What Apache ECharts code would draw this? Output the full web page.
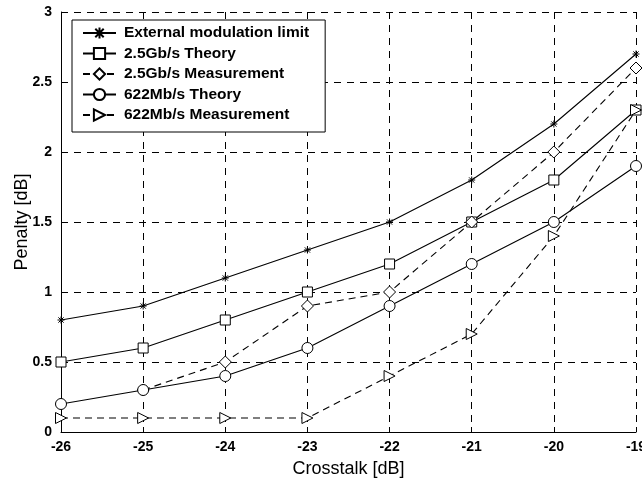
<!DOCTYPE html>
<html><head><meta charset="utf-8">
<script src="https://cdn.jsdelivr.net/npm/echarts@6/dist/echarts.min.js"></script>
<style>html,body{margin:0;padding:0;background:#fff}#c{width:642px;height:485px}</style>
</head><body><div id="c"></div>
<script>
const crosstalk = [-26, -25, -24, -23, -22, -21, -20, -19];
const extLimit = [0.8, 0.9, 1.1, 1.3, 1.5, 1.8, 2.2, 2.7];
const theory25 = [0.5, 0.6, 0.8, 1.0, 1.2, 1.5, 1.8, 2.3];
const meas25 = [null, 0.3, 0.5, 0.9, 1.0, 1.5, 2.0, 2.6];
const theory622 = [0.2, 0.3, 0.4, 0.6, 0.9, 1.2, 1.5, 1.9];
const meas622 = [0.1, 0.1, 0.1, 0.1, 0.4, 0.7, 1.4, 2.3];
const seriesNames = ['External modulation limit', '2.5Gb/s Theory', '2.5Gb/s Measurement', '622Mb/s Theory', '622Mb/s Measurement'];
const yTicks = [0, 0.5, 1, 1.5, 2, 2.5, 3];

function pairs(vals) {
  const out = [];
  vals.forEach((v, i) => { if (v !== null) out.push([crosstalk[i], v]); });
  return out;
}
const FONT = '"Liberation Sans", Arial, sans-serif';
const starPath = 'path://M4,0 L4,8 M0,4 L8,4 M1,1 L7,7 M7,1 L1,7';
const triPath = 'path://M0,0 L10,5 L0,10 Z';

function mk(name, vals, symbol, size, dashed, filled) {
  return {
    name: name, type: 'line', data: pairs(vals), symbol: symbol, symbolSize: size,
    showAllSymbol: true, z: 5,
    lineStyle: { color: '#000', width: 1.1, type: dashed ? [7, 5] : 'solid' },
    itemStyle: { color: filled ? '#000' : '#fff', borderColor: '#000', borderWidth: 1 },
    emphasis: { disabled: true }
  };
}

const chart = echarts.init(document.getElementById('c'), null, { renderer: 'canvas' });
chart.setOption({
  animation: false,
  backgroundColor: '#fff',
  grid: { left: 61, right: 6, top: 12, bottom: 53, outerBoundsMode: 'none', containLabel: false },
  legend: {
    orient: 'vertical', left: 72, top: 20, itemGap: 4.5, itemWidth: 33, itemHeight: 14,
    padding: [5, 16, 9, 10],
    backgroundColor: '#fff', borderColor: '#000', borderWidth: 1,
    textStyle: { fontFamily: FONT, fontWeight: 'bold', fontSize: 15.5, color: '#000', padding: [0, 0, 0, 3] },
    data: seriesNames
  },
  xAxis: {
    type: 'value', min: -26, max: -19, interval: 1,
    name: 'Crosstalk [dB]', nameLocation: 'middle', nameGap: 28, nameMoveOverlap: false,
    nameTextStyle: { fontFamily: FONT, fontSize: 18, color: '#000' },
    axisLine: { show: true, lineStyle: { color: '#000', width: 1 } },
    axisTick: { show: true, inside: true, length: 5, lineStyle: { color: '#000' } },
    axisLabel: { fontFamily: FONT, fontWeight: 'bold', fontSize: 14, color: '#000', margin: 8 },
    splitLine: { show: true, lineStyle: { color: '#000', type: [7, 6], width: 1 } }
  },
  yAxis: {
    type: 'value', min: 0, max: 3, interval: 0.5,
    name: 'Penalty [dB]', nameLocation: 'middle', nameGap: 30, nameMoveOverlap: false,
    nameTextStyle: { fontFamily: FONT, fontSize: 18, color: '#000' },
    axisLine: { show: true, lineStyle: { color: '#000', width: 1 } },
    axisTick: { show: true, inside: true, length: 5, lineStyle: { color: '#000' } },
    axisLabel: { fontFamily: FONT, fontWeight: 'bold', fontSize: 14, color: '#000', margin: 9,
      formatter: v => String(yTicks.find(t => Math.abs(t - v) < 1e-9) ?? v) },
    splitLine: { show: true, lineStyle: { color: '#000', type: [7, 6], width: 1 } }
  },
  series: [
    mk(seriesNames[0], extLimit, starPath, 7, false, true),
    mk(seriesNames[1], theory25, 'rect', 10, false, false),
    mk(seriesNames[2], meas25, 'diamond', 12, true, false),
    mk(seriesNames[3], theory622, 'circle', 11, false, false),
    mk(seriesNames[4], meas622, triPath, 11, true, false)
  ]
});
</script></body></html>
